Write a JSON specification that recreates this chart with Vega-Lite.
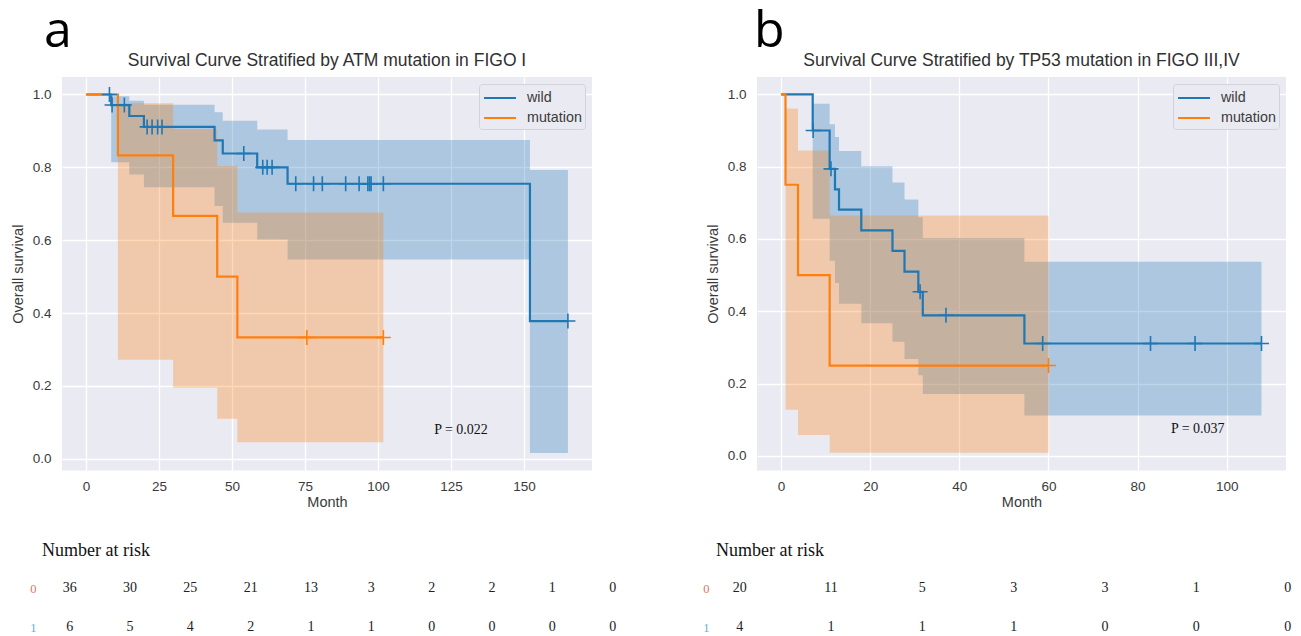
{
  "$schema": "https://vega.github.io/schema/vega-lite/v6.json",
  "padding": {"left": 10, "top": 6, "right": 0, "bottom": 0},
  "background": "white",
  "config": {
    "view": {"stroke": null},
    "axis": {"domain": false, "ticks": false, "gridColor": "#ffffff", "gridWidth": 1.3, "labelFont": "Liberation Sans", "labelFontSize": 13.5, "labelColor": "#3a3a3a", "titleFont": "Liberation Sans", "titleFontSize": 14.5, "titleFontWeight": "normal", "titleColor": "#3a3a3a"},
    "legend": {"labelFont": "Liberation Sans", "labelFontSize": 14.3, "labelColor": "#3a3a3a"}
  },
  "datasets": {
    "kmA": [
      {"g": "wild", "t": 0, "s": 1, "lo": 1, "hi": 1},
      {"g": "wild", "t": 8.6, "s": 0.971, "lo": 0.814, "hi": 0.995},
      {"g": "wild", "t": 14.8, "s": 0.941, "lo": 0.78, "hi": 0.983},
      {"g": "wild", "t": 19.8, "s": 0.911, "lo": 0.745, "hi": 0.972},
      {"g": "wild", "t": 44.0, "s": 0.874, "lo": 0.694, "hi": 0.951},
      {"g": "wild", "t": 46.8, "s": 0.838, "lo": 0.648, "hi": 0.928},
      {"g": "wild", "t": 58.6, "s": 0.8, "lo": 0.602, "hi": 0.904},
      {"g": "wild", "t": 69.0, "s": 0.755, "lo": 0.547, "hi": 0.875},
      {"g": "wild", "t": 152.0, "s": 0.378, "lo": 0.016, "hi": 0.793},
      {"g": "wild", "t": 165.0, "s": 0.378, "lo": 0.016, "hi": 0.793},
      {"g": "mutation", "t": 0, "s": 1, "lo": 1, "hi": 1},
      {"g": "mutation", "t": 10.9, "s": 0.833, "lo": 0.272, "hi": 0.976},
      {"g": "mutation", "t": 29.8, "s": 0.667, "lo": 0.195, "hi": 0.905},
      {"g": "mutation", "t": 44.9, "s": 0.5, "lo": 0.11, "hi": 0.804},
      {"g": "mutation", "t": 51.8, "s": 0.333, "lo": 0.045, "hi": 0.676},
      {"g": "mutation", "t": 101.8, "s": 0.333, "lo": 0.045, "hi": 0.676}
    ],
    "cenA": [
      {"g": "wild", "t": 8.0, "s": 1.0},
      {"g": "wild", "t": 8.9, "s": 0.971},
      {"g": "wild", "t": 13.1, "s": 0.971},
      {"g": "wild", "t": 20.9, "s": 0.911},
      {"g": "wild", "t": 22.6, "s": 0.911},
      {"g": "wild", "t": 24.5, "s": 0.911},
      {"g": "wild", "t": 26.0, "s": 0.911},
      {"g": "wild", "t": 54.0, "s": 0.838},
      {"g": "wild", "t": 60.5, "s": 0.8},
      {"g": "wild", "t": 62.0, "s": 0.8},
      {"g": "wild", "t": 63.7, "s": 0.8},
      {"g": "wild", "t": 71.8, "s": 0.755},
      {"g": "wild", "t": 77.9, "s": 0.755},
      {"g": "wild", "t": 80.9, "s": 0.755},
      {"g": "wild", "t": 88.9, "s": 0.755},
      {"g": "wild", "t": 93.5, "s": 0.755},
      {"g": "wild", "t": 96.5, "s": 0.755},
      {"g": "wild", "t": 97.1, "s": 0.755},
      {"g": "wild", "t": 97.6, "s": 0.755},
      {"g": "wild", "t": 101.8, "s": 0.755},
      {"g": "wild", "t": 165.0, "s": 0.378},
      {"g": "mutation", "t": 75.6, "s": 0.333},
      {"g": "mutation", "t": 101.8, "s": 0.333}
    ],
    "pA": [{"t": 128.4, "s": 0.08, "label": "P = 0.022"}],
    "riskA": [
      {"row": "0", "time": 0, "n": 36}, {"row": "0", "time": 20, "n": 30}, {"row": "0", "time": 40, "n": 25}, {"row": "0", "time": 60, "n": 21}, {"row": "0", "time": 80, "n": 13},
      {"row": "0", "time": 100, "n": 3}, {"row": "0", "time": 120, "n": 2}, {"row": "0", "time": 140, "n": 2}, {"row": "0", "time": 160, "n": 1}, {"row": "0", "time": 180, "n": 0},
      {"row": "1", "time": 0, "n": 6}, {"row": "1", "time": 20, "n": 5}, {"row": "1", "time": 40, "n": 4}, {"row": "1", "time": 60, "n": 2}, {"row": "1", "time": 80, "n": 1},
      {"row": "1", "time": 100, "n": 1}, {"row": "1", "time": 120, "n": 0}, {"row": "1", "time": 140, "n": 0}, {"row": "1", "time": 160, "n": 0}, {"row": "1", "time": 180, "n": 0}
    ],
    "kmB": [
      {"g": "wild", "t": 0, "s": 1, "lo": 1, "hi": 1},
      {"g": "wild", "t": 7.1, "s": 0.9, "lo": 0.656, "hi": 0.974},
      {"g": "wild", "t": 10.9, "s": 0.794, "lo": 0.54, "hi": 0.917},
      {"g": "wild", "t": 12.1, "s": 0.737, "lo": 0.478, "hi": 0.882},
      {"g": "wild", "t": 13.0, "s": 0.681, "lo": 0.421, "hi": 0.843},
      {"g": "wild", "t": 18.0, "s": 0.624, "lo": 0.367, "hi": 0.801},
      {"g": "wild", "t": 25.0, "s": 0.567, "lo": 0.316, "hi": 0.756},
      {"g": "wild", "t": 27.7, "s": 0.51, "lo": 0.268, "hi": 0.709},
      {"g": "wild", "t": 30.8, "s": 0.454, "lo": 0.223, "hi": 0.66},
      {"g": "wild", "t": 31.8, "s": 0.389, "lo": 0.171, "hi": 0.603},
      {"g": "wild", "t": 54.6, "s": 0.311, "lo": 0.112, "hi": 0.537},
      {"g": "wild", "t": 107.8, "s": 0.311, "lo": 0.112, "hi": 0.537},
      {"g": "mutation", "t": 0, "s": 1, "lo": 1, "hi": 1},
      {"g": "mutation", "t": 1.0, "s": 0.75, "lo": 0.128, "hi": 0.961},
      {"g": "mutation", "t": 3.8, "s": 0.5, "lo": 0.058, "hi": 0.845},
      {"g": "mutation", "t": 10.9, "s": 0.25, "lo": 0.009, "hi": 0.665},
      {"g": "mutation", "t": 60.0, "s": 0.25, "lo": 0.009, "hi": 0.665}
    ],
    "cenB": [
      {"g": "wild", "t": 7.2, "s": 0.9},
      {"g": "wild", "t": 11.2, "s": 0.794},
      {"g": "wild", "t": 31.2, "s": 0.454},
      {"g": "wild", "t": 37.0, "s": 0.389},
      {"g": "wild", "t": 58.7, "s": 0.311},
      {"g": "wild", "t": 82.9, "s": 0.311},
      {"g": "wild", "t": 92.9, "s": 0.311},
      {"g": "wild", "t": 107.8, "s": 0.311},
      {"g": "mutation", "t": 60.0, "s": 0.25}
    ],
    "pB": [{"t": 93.5, "s": 0.074, "label": "P = 0.037"}],
    "riskB": [
      {"row": "0", "time": 0, "n": 20}, {"row": "0", "time": 20, "n": 11}, {"row": "0", "time": 40, "n": 5}, {"row": "0", "time": 60, "n": 3},
      {"row": "0", "time": 80, "n": 3}, {"row": "0", "time": 100, "n": 1}, {"row": "0", "time": 120, "n": 0},
      {"row": "1", "time": 0, "n": 4}, {"row": "1", "time": 20, "n": 1}, {"row": "1", "time": 40, "n": 1}, {"row": "1", "time": 60, "n": 1},
      {"row": "1", "time": 80, "n": 0}, {"row": "1", "time": 100, "n": 0}, {"row": "1", "time": 120, "n": 0}
    ]
  },
  "hconcat": [
    {
      "title": {"text": "a", "anchor": "start", "frame": "group", "font": "Open Sans", "fontSize": 50, "fontWeight": "normal", "color": "#000000", "dx": -18, "offset": -5},
      "bounds": "flush",
      "spacing": 109.5,
      "resolve": {"scale": {"color": "independent", "fill": "independent", "stroke": "independent"}, "legend": {"color": "independent"}},
      "vconcat": [
        {
          "width": 530,
          "height": 393.4,
          "view": {"fill": "#EAEAF2", "stroke": null},
          "title": {"text": "Survival Curve Stratified by ATM mutation in FIGO I", "font": "Liberation Sans", "fontSize": 17.5, "fontWeight": "normal", "color": "#303030", "offset": 8},
          "layer": [
            {
              "data": {"name": "kmA"},
              "mark": {"type": "area", "interpolate": "step-after", "opacity": 0.3},
              "encoding": {
                "x": {"field": "t", "type": "quantitative", "scale": {"domain": [-8.25, 173.25], "nice": false, "zero": false},
                      "axis": {"title": "Month", "values": [0, 25, 50, 75, 100, 125, 150], "labelPadding": 9, "titlePadding": 3}},
                "y": {"field": "lo", "type": "quantitative", "scale": {"domain": [-0.032, 1.048], "nice": false, "zero": false},
                      "axis": {"title": "Overall survival", "values": [0, 0.2, 0.4, 0.6, 0.8, 1.0], "format": ".1f", "labelPadding": 11, "titlePadding": 7}},
                "y2": {"field": "hi"},
                "fill": {"field": "g", "type": "nominal", "scale": {"domain": ["mutation", "wild"], "range": ["#ff7f0e", "#1f77b4"]}, "legend": null}
              }
            },
            {
              "data": {"name": "kmA"},
              "mark": {"type": "line", "interpolate": "step-after", "strokeWidth": 2.2},
              "encoding": {
                "x": {"field": "t", "type": "quantitative"},
                "y": {"field": "s", "type": "quantitative"},
                "color": {"field": "g", "type": "nominal", "scale": {"domain": ["wild", "mutation"], "range": ["#1f77b4", "#ff7f0e"]},
                          "legend": {"title": null, "orient": "top-right", "offset": 7, "fillColor": "#EAEAF2", "strokeColor": "#d2d2da", "cornerRadius": 3, "padding": 3, "symbolType": "M-1.6,0L1.6,0", "symbolSize": 400, "symbolStrokeWidth": 2, "symbolOpacity": 1, "symbolOffset": 7, "labelOffset": 16, "rowPadding": 1}}
              }
            },
            {
              "data": {"name": "cenA"},
              "mark": {"type": "point", "shape": "M-1,0L1,0M0,-1L0,1", "filled": false, "strokeWidth": 1.6, "size": 225, "opacity": 1},
              "encoding": {
                "x": {"field": "t", "type": "quantitative"},
                "y": {"field": "s", "type": "quantitative"},
                "stroke": {"field": "g", "type": "nominal", "scale": {"domain": ["mutation", "wild", "none"], "range": ["#ff7f0e", "#1f77b4", "#000000"]}, "legend": null}
              }
            },
            {
              "data": {"name": "pA"},
              "mark": {"type": "text", "font": "Liberation Serif", "fontSize": 14, "color": "#111111"},
              "encoding": {
                "x": {"field": "t", "type": "quantitative"},
                "y": {"field": "s", "type": "quantitative"},
                "text": {"field": "label"}
              }
            }
          ]
        },
        {
          "width": 530,
          "height": 54.6,
          "title": {"text": "Number at risk", "anchor": "start", "frame": "group", "font": "Liberation Serif", "fontSize": 18, "fontWeight": "normal", "color": "#111111", "dx": -20, "offset": 21},
          "data": {"name": "riskA"},
          "mark": {"type": "text", "font": "Liberation Serif", "fontSize": 14, "color": "#222222"},
          "encoding": {
            "x": {"field": "time", "type": "quantitative", "scale": {"domain": [-2.55, 173.14], "nice": false, "zero": false}, "axis": null},
            "y": {"field": "row", "type": "nominal", "scale": {"type": "point", "padding": 0.2},
                  "axis": {"title": null, "grid": false, "labelPadding": 26, "labelFont": "Liberation Serif", "labelFontSize": 12.5,
                           "labelColor": {"condition": {"test": "datum.value == '0'", "value": "#e0736a"}, "value": "#5ab4d8"}}},
            "text": {"field": "n", "type": "quantitative"}
          }
        }
      ]
    },
    {
      "title": {"text": "b", "anchor": "start", "frame": "group", "font": "Open Sans", "fontSize": 50, "fontWeight": "normal", "color": "#000000", "dx": -3, "offset": -5},
      "bounds": "flush",
      "spacing": 109.5,
      "resolve": {"scale": {"color": "independent", "fill": "independent", "stroke": "independent"}, "legend": {"color": "independent"}},
      "vconcat": [
        {
          "width": 529,
          "height": 393.4,
          "view": {"fill": "#EAEAF2", "stroke": null},
          "title": {"text": "Survival Curve Stratified by TP53 mutation in FIGO III,IV", "font": "Liberation Sans", "fontSize": 17.5, "fontWeight": "normal", "color": "#303030", "offset": 8},
          "layer": [
            {
              "data": {"name": "kmB"},
              "mark": {"type": "area", "interpolate": "step-after", "opacity": 0.3},
              "encoding": {
                "x": {"field": "t", "type": "quantitative", "scale": {"domain": [-5.4, 113.3], "nice": false, "zero": false},
                      "axis": {"title": "Month", "values": [0, 20, 40, 60, 80, 100], "labelPadding": 9, "titlePadding": 3}},
                "y": {"field": "lo", "type": "quantitative", "scale": {"domain": [-0.04, 1.048], "nice": false, "zero": false},
                      "axis": {"title": "Overall survival", "values": [0, 0.2, 0.4, 0.6, 0.8, 1.0], "format": ".1f", "labelPadding": 11, "titlePadding": 7}},
                "y2": {"field": "hi"},
                "fill": {"field": "g", "type": "nominal", "scale": {"domain": ["mutation", "wild"], "range": ["#ff7f0e", "#1f77b4"]}, "legend": null}
              }
            },
            {
              "data": {"name": "kmB"},
              "mark": {"type": "line", "interpolate": "step-after", "strokeWidth": 2.2},
              "encoding": {
                "x": {"field": "t", "type": "quantitative"},
                "y": {"field": "s", "type": "quantitative"},
                "color": {"field": "g", "type": "nominal", "scale": {"domain": ["wild", "mutation"], "range": ["#1f77b4", "#ff7f0e"]},
                          "legend": {"title": null, "orient": "top-right", "offset": 7, "fillColor": "#EAEAF2", "strokeColor": "#d2d2da", "cornerRadius": 3, "padding": 3, "symbolType": "M-1.6,0L1.6,0", "symbolSize": 400, "symbolStrokeWidth": 2, "symbolOpacity": 1, "symbolOffset": 7, "labelOffset": 16, "rowPadding": 1}}
              }
            },
            {
              "data": {"name": "cenB"},
              "mark": {"type": "point", "shape": "M-1,0L1,0M0,-1L0,1", "filled": false, "strokeWidth": 1.6, "size": 225, "opacity": 1},
              "encoding": {
                "x": {"field": "t", "type": "quantitative"},
                "y": {"field": "s", "type": "quantitative"},
                "stroke": {"field": "g", "type": "nominal", "scale": {"domain": ["mutation", "wild", "none"], "range": ["#ff7f0e", "#1f77b4", "#000000"]}, "legend": null}
              }
            },
            {
              "data": {"name": "pB"},
              "mark": {"type": "text", "font": "Liberation Serif", "fontSize": 14, "color": "#111111"},
              "encoding": {
                "x": {"field": "t", "type": "quantitative"},
                "y": {"field": "s", "type": "quantitative"},
                "text": {"field": "label"}
              }
            }
          ]
        },
        {
          "width": 529,
          "height": 54.6,
          "title": {"text": "Number at risk", "anchor": "start", "frame": "group", "font": "Liberation Serif", "fontSize": 18, "fontWeight": "normal", "color": "#111111", "dx": -41, "offset": 21},
          "data": {"name": "riskB"},
          "mark": {"type": "text", "font": "Liberation Serif", "fontSize": 14, "color": "#222222"},
          "encoding": {
            "x": {"field": "time", "type": "quantitative", "scale": {"domain": [3.79, 119.63], "nice": false, "zero": false}, "axis": null},
            "y": {"field": "row", "type": "nominal", "scale": {"type": "point", "padding": 0.2},
                  "axis": {"title": null, "grid": false, "labelPadding": 48, "labelFont": "Liberation Serif", "labelFontSize": 12.5,
                           "labelColor": {"condition": {"test": "datum.value == '0'", "value": "#e0736a"}, "value": "#5ab4d8"}}},
            "text": {"field": "n", "type": "quantitative"}
          }
        }
      ]
    }
  ],
  "spacing": 85,
  "resolve": {"scale": {"color": "independent", "fill": "independent", "stroke": "independent"}, "legend": {"color": "independent"}}
}
